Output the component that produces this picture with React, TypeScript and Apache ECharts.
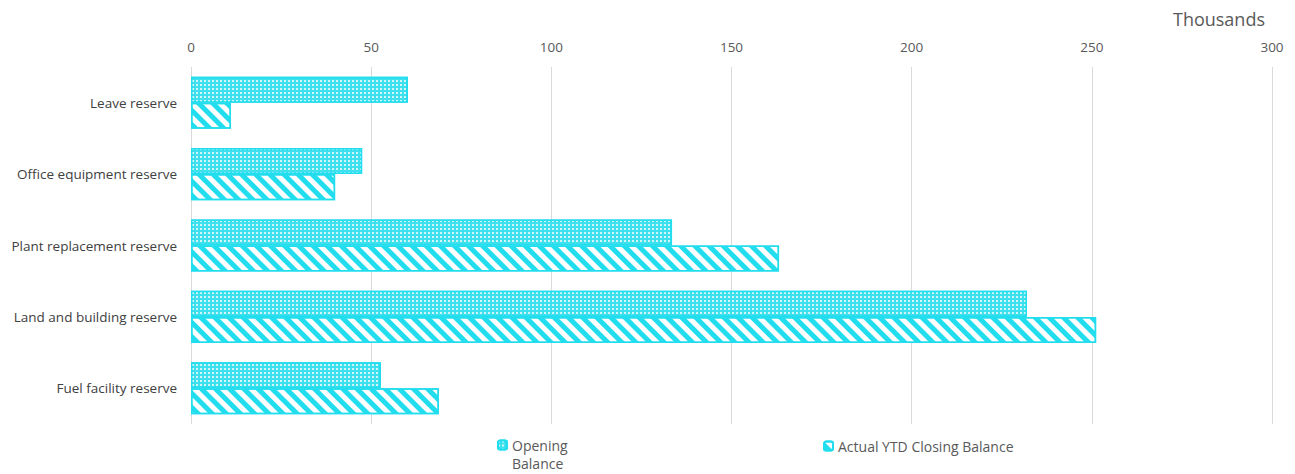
import React, { useEffect, useRef } from "react";
import * as echarts from "echarts";

const categories = [
  "Leave reserve",
  "Office equipment reserve",
  "Plant replacement reserve",
  "Land and building reserve",
  "Fuel facility reserve",
];
const openingBalance = [60.2, 47.5, 133.5, 232.0, 52.7];
const closingBalance = [11.1, 40.0, 163.2, 251.2, 68.8];
const seriesNames = ["Opening Balance", "Actual YTD Closing Balance"];

const CYAN = "#22DDEE";
const FONT = "'Open Sans', 'Liberation Sans', sans-serif";

export default function App() {
  const ref = useRef<HTMLDivElement>(null);
  useEffect(() => {
    if (!ref.current) return;
    const chart = echarts.init(ref.current, undefined, { renderer: "svg" });
    chart.setOption({
      animation: false,
      grid: { left: 183, right: 23, top: 59, bottom: 50 },
      xAxis: {
        type: "value",
        position: "top",
        min: 0,
        max: 300,
        interval: 50,
        name: "Thousands",
        nameLocation: "end",
        nameGap: 0,
        nameTextStyle: {
          color: "#595959",
          fontSize: 18,
          fontFamily: FONT,
          align: "right",
          verticalAlign: "bottom",
          padding: [0, 7, 39, 0],
        },
        axisLine: { show: false },
        axisTick: { show: false },
        axisLabel: { color: "#595959", fontSize: 13.5, fontFamily: FONT, margin: 13 },
        splitLine: { show: true, lineStyle: { color: "#D9D9D9", width: 1 } },
      },
      yAxis: {
        type: "category",
        data: categories,
        inverse: true,
        axisLine: { show: false },
        axisTick: { show: false },
        axisLabel: { color: "#404040", fontSize: 13.5, fontFamily: FONT, margin: 14 },
      },
      legend: [
        {
          data: [seriesNames[0]],
          left: 484,
          top: 405,
          itemWidth: 9,
          itemHeight: 9,
          itemGap: 4,
          formatter: () => " \nOpening\nBalance",
          textStyle: { color: "#595959", fontSize: 14, fontFamily: FONT, lineHeight: 18 },
        },
        {
          data: [seriesNames[1]],
          left: 810,
          top: 426,
          itemWidth: 9,
          itemHeight: 9,
          textStyle: { color: "#595959", fontSize: 14, fontFamily: FONT },
        },
      ],
      series: [
        {
          name: seriesNames[0],
          type: "bar",
          data: openingBalance,
          barGap: "0%",
          barCategoryGap: "27%",
          itemStyle: {
            color: "#3FE0EE",
            borderColor: CYAN,
            borderWidth: 1.5,
            decal: {
              symbol: "rect",
              color: "rgba(255,255,255,0.75)",
              dashArrayX: [2, 2],
              dashArrayY: [2, 2],
              rotation: 0,
            },
          },
        },
        {
          name: seriesNames[1],
          type: "bar",
          data: closingBalance,
          barGap: "0%",
          barCategoryGap: "27%",
          itemStyle: {
            color: "#FFFFFF",
            borderColor: CYAN,
            borderWidth: 1.5,
            decal: {
              symbol: "rect",
              color: CYAN,
              dashArrayX: [1, 0],
              dashArrayY: [5, 5],
              rotation: Math.PI / 4,
            },
          },
        },
      ],
    });
    return () => chart.dispose();
  }, []);
  return <div ref={ref} style={{ width: 1287, height: 466 }} />;
}
